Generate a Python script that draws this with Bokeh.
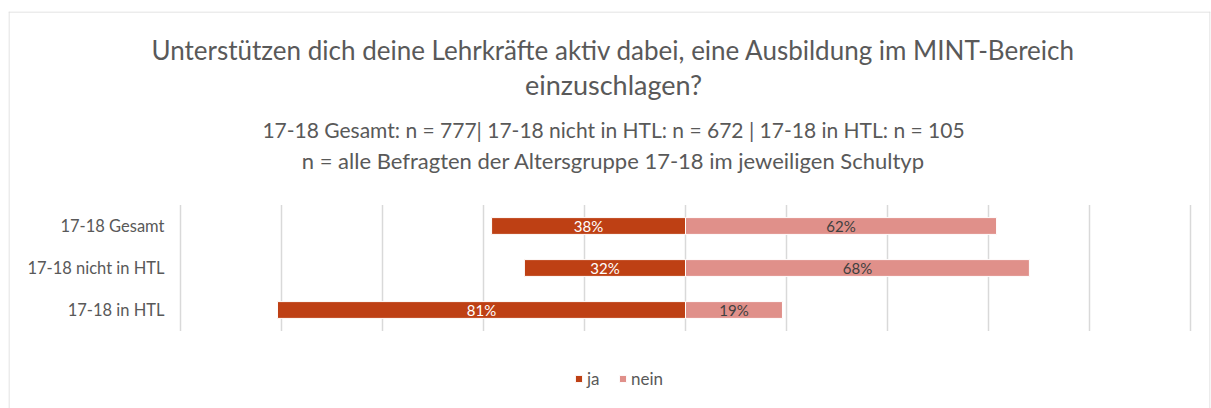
from bokeh.plotting import figure
from bokeh.models import ColumnDataSource, Label, LabelSet, Legend, LegendItem, Range1d, Span
from bokeh.embed import file_html
from bokeh.resources import INLINE
from bokeh.core.properties import value

# ---------------- data ----------------
categories = ["17-18 Gesamt", "17-18 nicht in HTL", "17-18 in HTL"]
ja = [38.4, 31.9, 80.8]
nein = [61.6, 68.1, 19.2]
series_names = ["ja", "nein"]
title_lines = ["Unterstützen dich deine Lehrkräfte aktiv dabei, eine Ausbildung im MINT-Bereich",
               "einzuschlagen?"]
subtitle_lines = ["17-18 Gesamt: n = 777| 17-18 nicht in HTL: n = 672 | 17-18 in HTL: n = 105",
                  "n = alle Befragten der Altersgruppe 17-18 im jeweiligen Schultyp"]
grid_ticks = [-100, -80, -60, -40, -20, 0, 20, 40, 60, 80, 100]

# ---------------- layout (page pixels) ----------------
W, H = 1211, 408
FRAME_L, FRAME_T, FRAME_R = 8, 11, 1210
GRID_L, GRID_R = 180, 1190
ROW0, ROW_H = 225.5, 42.0
PXU = (GRID_R - GRID_L) / (max(grid_ticks) - min(grid_ticks))


def X(px):
    return min(grid_ticks) + (px - GRID_L) / PXU


def Y(py):
    return (py - ROW0) / ROW_H


FONT = "Lato"
TXT = "#595959"
C_JA = "#BE4014"
C_NEIN = "#E0908A"
GRID = "#D9D9D9"

idx = list(range(len(categories)))
src = ColumnDataSource(dict(
    y=idx,
    cat=categories,
    ja_left=[-v for v in ja],
    ja_mid=[-v / 2 for v in ja],
    nein_mid=[v / 2 for v in nein],
    zero=[0] * len(ja),
    nein=nein,
    xmin=[min(grid_ticks)] * len(ja),
    ja_lbl=[f"{round(v)}%" for v in ja],
    nein_lbl=[f"{round(v)}%" for v in nein],
))

p = figure(width=W, height=H, output_backend="svg", toolbar_location=None,
           x_range=Range1d(X(FRAME_L), X(FRAME_R)), y_range=Range1d(Y(H), Y(FRAME_T)),
           min_border_left=FRAME_L, min_border_right=W - FRAME_R, min_border_top=FRAME_T,
           min_border_bottom=0)
p.title.visible = False
p.xaxis.visible = False
p.yaxis.visible = False
p.grid.visible = False
p.outline_line_color = None
p.background_fill_color = "white"

# chart-area border (top, left, right)
p.add_layout(Span(location=X(FRAME_L + 0.5), dimension="height", line_color=GRID, line_width=1))
p.add_layout(Span(location=X(FRAME_R - 0.5), dimension="height", line_color=GRID, line_width=1))
p.add_layout(Span(location=Y(FRAME_T + 0.5), dimension="width", line_color=GRID, line_width=1))

# vertical gridlines only over the bar area
p.segment(x0=grid_ticks, x1=grid_ticks, y0=[-0.5] * len(grid_ticks),
          y1=[len(categories) - 0.5] * len(grid_ticks), line_color=GRID, line_width=1.5)

r_ja = p.hbar(y="y", left="ja_left", right="zero", height=0.4, fill_color=C_JA,
              line_color="white", line_width=1, source=src)
r_nein = p.hbar(y="y", left="zero", right="nein", height=0.4, fill_color=C_NEIN,
                line_color="white", line_width=1, source=src)

p.add_layout(LabelSet(x="ja_mid", y="y", text="ja_lbl", source=src, text_align="center",
                      text_baseline="middle", text_color="white", text_font=value(FONT),
                      text_font_size="15px"))
p.add_layout(LabelSet(x="nein_mid", y="y", text="nein_lbl", source=src, text_align="center",
                      text_baseline="middle", text_color="#404040", text_font=value(FONT),
                      text_font_size="15px"))
# category labels
p.add_layout(LabelSet(x="xmin", y="y", text="cat", source=src, x_offset=-16,
                      text_align="right", text_baseline="middle", text_color=TXT,
                      text_font=value(FONT), text_font_size="16.5px"))

# titles
CX = X(613)
for txt, py, size in [(title_lines[0], 49, "26px"), (title_lines[1], 84, "27px"),
                      (subtitle_lines[0], 129, "21px"), (subtitle_lines[1], 160, "22px")]:
    p.add_layout(Label(x=CX, y=Y(py), text=txt, text_align="center", text_baseline="middle",
                       text_font=FONT, text_font_size=size, text_color=TXT))

legend = Legend(items=[LegendItem(label=series_names[0], renderers=[r_ja]),
                       LegendItem(label=series_names[1], renderers=[r_nein])],
                orientation="horizontal", location=(566, 19),
                label_text_font=FONT, label_text_font_size="17px", label_text_color=TXT,
                glyph_width=9, glyph_height=9, label_standoff=4, spacing=11,
                border_line_color=None, background_fill_alpha=0, margin=0, padding=0)
p.add_layout(legend, "center")

open("out.html", "w").write(file_html(p, INLINE))
